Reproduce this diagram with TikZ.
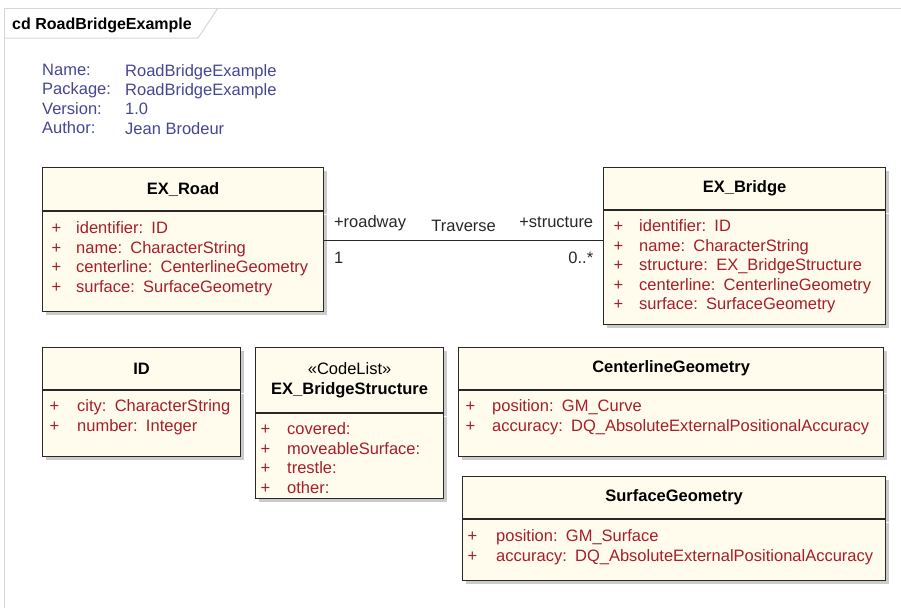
\documentclass[tikz,border=0pt]{standalone}
\usepackage{fontspec}
\setmainfont{Liberation Sans}
\usepackage{xcolor}
\definecolor{umlcream}{RGB}{255,252,238}
\definecolor{umlred}{RGB}{165,30,40}
\definecolor{umlblue}{RGB}{70,70,150}
\definecolor{umlframe}{RGB}{215,215,215}
\definecolor{umlline}{RGB}{40,40,40}
\usetikzlibrary{shadows,positioning}

\begin{document}
\begin{tikzpicture}[x=1pt,y=-1pt,font=\fontsize{16.5}{19.5}\selectfont,
  classhead/.style={draw=umlline,line width=1.2pt,fill=umlcream,anchor=north west,inner sep=0pt,
    font=\fontsize{16.5}{20}\selectfont\bfseries,
    drop shadow={shadow xshift=3pt,shadow yshift=-3pt,fill=black!40,opacity=0.5}},
  classbody/.style={draw=umlline,line width=1.2pt,fill=umlcream,anchor=north west,inner ysep=0pt,
    text=umlred,align=left,
    drop shadow={shadow xshift=3pt,shadow yshift=-3pt,fill=black!40,opacity=0.5}},
  metatext/.style={anchor=north west,inner sep=0pt,align=left,text=umlblue,font=\fontsize{16.5}{19.3}\selectfont}]
  \fill[white] (0,0) rectangle (901,608);
  \useasboundingbox (0,0) rectangle (901,608);
  % diagram frame
  \draw[umlframe,line width=1pt] (4,608) -- (4,8) -- (901,8);
  \draw[umlframe,line width=1pt] (4,38) -- (198,38) -- (218,8);
  \node[anchor=base west,inner sep=0pt,font=\fontsize{16}{19}\selectfont\bfseries] (title) at (12,29) {cd RoadBridgeExample};
  % notes
  \node[metatext] (metakeys) at (42,64) {Name:\\Package:\\Version:\\Author:};
  \node[metatext] (metavals) at (125,64) {RoadBridgeExample\\RoadBridgeExample\\1.0\\Jean Brodeur};
  % classes
  \node[classhead,minimum width=281pt,minimum height=43pt] (rdhead) at (42,167) {EX\_Road};
  \node[classbody,inner xsep=9pt,text width=263pt,text height=22pt,text depth=78pt] (rdbody) at (rdhead.south west)
    {+\hspace{15pt}identifier:\enspace ID\\+\hspace{15pt}name:\enspace CharacterString\\+\hspace{15pt}centerline:\enspace CenterlineGeometry\\+\hspace{15pt}surface:\enspace SurfaceGeometry};
  \node[classhead,minimum width=282pt,minimum height=42pt] (brhead) at (603,167) {EX\_Bridge};
  \node[classbody,inner xsep=10pt,text width=262pt,text height=21pt,text depth=93pt] (brbody) at (brhead.south west)
    {+\hspace{16pt}identifier:\enspace ID\\+\hspace{16pt}name:\enspace CharacterString\\+\hspace{16pt}structure:\enspace EX\_BridgeStructure\\+\hspace{16pt}centerline:\enspace CenterlineGeometry\\+\hspace{16pt}surface:\enspace SurfaceGeometry};
  \node[classhead,minimum width=198pt,minimum height=42pt] (idhead) at (42,347) {ID};
  \node[classbody,inner xsep=7pt,text width=184pt,text height=21pt,text depth=45pt] (idbody) at (idhead.south west)
    {+\hspace{18pt}city:\enspace CharacterString\\+\hspace{18pt}number:\enspace Integer};
  \node[classhead,minimum width=188pt,minimum height=65pt,align=center] (bshead) at (255,347) {{\mdseries «CodeList»}\\EX\_BridgeStructure};
  \node[classbody,inner xsep=5pt,text width=178pt,text height=21pt,text depth=64pt] (bsbody) at (bshead.south west)
    {+\hspace{17pt}covered:\\+\hspace{17pt}moveableSurface:\\+\hspace{17pt}trestle:\\+\hspace{17pt}other:};
  \node[classhead,minimum width=425pt,minimum height=42pt] (clhead) at (458,347) {CenterlineGeometry};
  \node[classbody,inner xsep=7pt,text width=411pt,text height=21pt,text depth=45pt] (clbody) at (clhead.south west)
    {+\hspace{17pt}position:\enspace GM\_Curve\\+\hspace{17pt}accuracy:\enspace DQ\_AbsoluteExternalPositionalAccuracy};
  \node[classhead,minimum width=423pt,minimum height=42pt] (sfhead) at (462,476) {SurfaceGeometry};
  \node[classbody,inner xsep=5pt,text width=413pt,text height=22pt,text depth=39pt] (sfbody) at (sfhead.south west)
    {+\hspace{19pt}position:\enspace GM\_Surface\\+\hspace{19pt}accuracy:\enspace DQ\_AbsoluteExternalPositionalAccuracy};
  % association
  \coordinate (assoc) at (464,240);
  \draw[umlline,line width=1pt] (rdbody.east |- assoc) -- (brbody.west |- assoc)
    node[pos=0,anchor=base west,xshift=6pt,yshift=13pt] (rolerd) {+roadway}
    node[midway,anchor=base,yshift=9pt] (assocname) {Traverse}
    node[pos=1,anchor=base east,xshift=-6pt,yshift=13pt] (rolebr) {+structure}
    node[pos=0,anchor=base west,xshift=6pt,yshift=-23pt] (multrd) {1}
    node[pos=1,anchor=base east,xshift=-6pt,yshift=-23pt] (multbr) {0..*};
\end{tikzpicture}
\end{document}
